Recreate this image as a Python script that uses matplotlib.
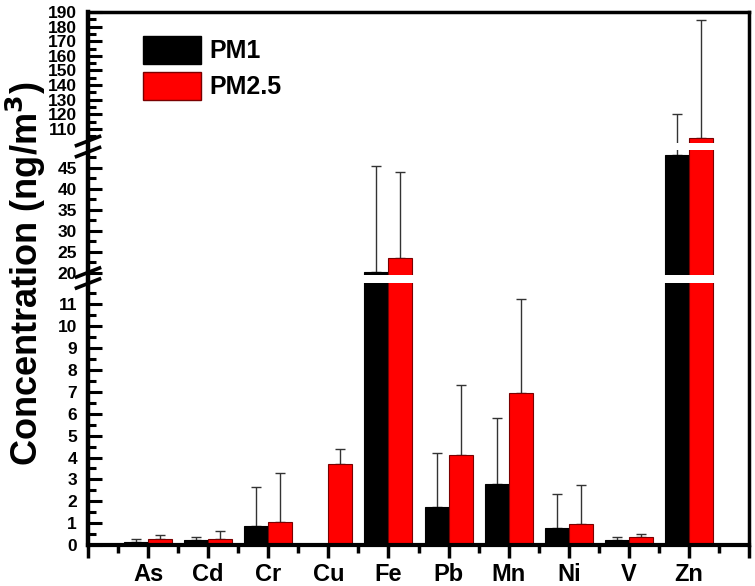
import matplotlib
matplotlib.use("Agg")
import matplotlib.pyplot as plt
import numpy as np
from matplotlib.patches import Patch
from matplotlib.lines import Line2D
from matplotlib.ticker import MultipleLocator, FixedLocator

plt.rcParams['font.family'] = ['Liberation Sans', 'DejaVu Sans']
plt.rcParams['font.weight'] = 'bold'

elements = ["As", "Cd", "Cr", "Cu", "Fe", "Pb", "Mn", "Ni", "V", "Zn"]
pm1 = [0.15, 0.24, 0.86, 0.0, 20.3, 1.76, 2.81, 0.80, 0.24, 47.9]
pm1_sd = [0.11, 0.13, 1.77, np.nan, 25.2, 2.43, 3.0, 1.54, 0.11, 72.4]
pm25 = [0.29, 0.26, 1.05, 3.70, 23.6, 4.10, 6.96, 0.96, 0.38, 104.0]
pm25_sd = [0.15, 0.37, 2.25, 0.69, 20.4, 3.2, 4.28, 1.79, 0.12, 80.5]

W, H = 755, 586
fig = plt.figure(figsize=(W / 100, H / 100), dpi=100)

L = 88 / W
R = 749 / W
def fy(p):
    return (H - p) / H

# (pixel bottom, pixel top, ylim, major step, minor step)
segments = [
    (545, 283, (0, 11.98), 1, 0.5),
    (275, 150, (19.5, 49.2), 5, 2.5),
    (143, 12, (100.4, 190), 10, 5),
]

x = np.arange(1, len(elements) + 1)
bw = 0.4
axes = []
for i, (pb, pt, ylim, maj, mnr) in enumerate(segments):
    ax = fig.add_axes([L, fy(pb), R - L, (pb - pt) / H])
    axes.append(ax)
    ax.errorbar(x - bw / 2, pm1, yerr=[np.zeros(len(pm1)), pm1_sd], fmt='none',
                ecolor='#333333', elinewidth=1.0, capsize=3.6, capthick=1.0, zorder=1)
    ax.errorbar(x + bw / 2, pm25, yerr=[np.zeros(len(pm25)), pm25_sd], fmt='none',
                ecolor='#333333', elinewidth=1.0, capsize=3.6, capthick=1.0, zorder=1)
    ax.bar(x - bw / 2, pm1, width=bw, color='black', edgecolor='black', linewidth=0.8, zorder=2)
    ax.bar(x + bw / 2, pm25, width=bw, color='#ff0000', edgecolor='#7a0000', linewidth=0.8, zorder=2)
    ax.set_xlim(0, 11)
    ax.set_ylim(*ylim)
    ax.yaxis.set_major_locator(MultipleLocator(maj))
    ax.yaxis.set_minor_locator(MultipleLocator(mnr))
    ax.tick_params(axis='y', which='major', direction='in', length=10, width=2.2,
                   labelsize=12.5, pad=8)
    ax.tick_params(axis='y', which='minor', direction='in', length=5.5, width=2.2)
    for s in ['left', 'right']:
        ax.spines[s].set_visible(False)
    ax.spines['top'].set_visible(i == 2)
    ax.spines['bottom'].set_visible(i == 0)
    ax.spines['top'].set_linewidth(2.5)
    ax.spines['bottom'].set_linewidth(3)
    for lab in ax.get_yticklabels():
        lab.set_fontweight('bold')
    if i == 0:
        ax.xaxis.set_major_locator(FixedLocator(np.arange(0, 12)))
        ax.xaxis.set_minor_locator(FixedLocator(np.arange(0.5, 11, 1)))
        ax.set_xticklabels([""] + elements + [""], fontsize=17, fontweight='bold')
        ax.tick_params(axis='x', which='major', direction='out', length=9, width=2.5, pad=4)
        ax.tick_params(axis='x', which='minor', direction='out', length=5.5, width=2.5)
    else:
        ax.set_xticks([])
        ax.tick_params(axis='x', which='both', length=0)

# continuous left/right spines
ybot = fy(545)
ytop = fy(12)
for xx, lw in [(L, 3.2), (R, 2.5)]:
    fig.add_artist(Line2D([xx, xx], [ybot, ytop], color='black', linewidth=lw,
                          transform=fig.transFigure, solid_capstyle='projecting'))

# break marks
dx = 11.5 / W
dy = 4.5 / H
for yc in [272.5, 283.5, 141, 152]:
    yy = fy(yc)
    fig.add_artist(Line2D([L - dx, L + dx], [yy - dy, yy + dy], color='black', linewidth=2.6,
                          transform=fig.transFigure))

fig.text(26 / W, fy(274), "Concentration (ng/m$^\\mathbf{3}$)", rotation=90, fontsize=26,
         fontweight='bold', ha='center', va='center')

handles = [Patch(facecolor='black', edgecolor='black'),
           Patch(facecolor='#ff0000', edgecolor='#7a0000')]
fig.legend(handles, ["PM1", "PM2.5"], loc='upper left', bbox_to_anchor=(143 / W, fy(36)),
           frameon=False, prop={'weight': 'bold', 'size': 18},
           handlelength=2.3, handleheight=1.35, labelspacing=0.3, handletextpad=0.35,
           borderpad=0, borderaxespad=0)

fig.savefig("out.png", dpi=100)
